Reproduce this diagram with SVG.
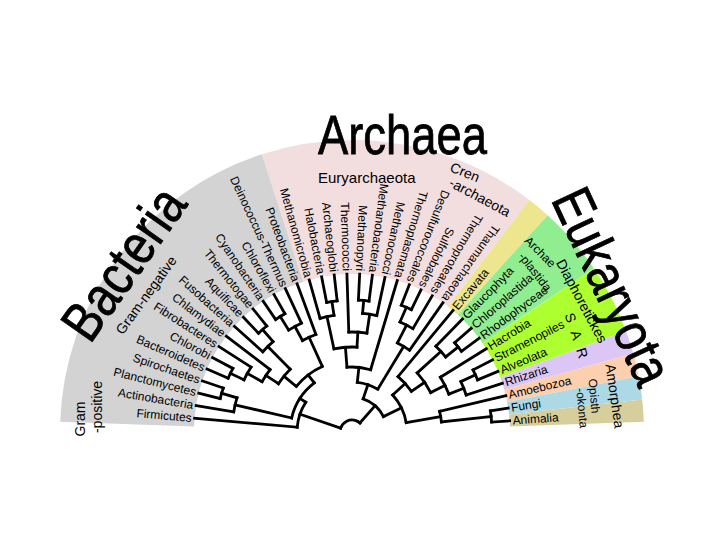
<svg xmlns="http://www.w3.org/2000/svg" width="720" height="540" viewBox="0 0 720 540">
<style>
text{font-family:"Liberation Sans",Arial,sans-serif;fill:#000}
.lf{font-size:12px}
.l{text-anchor:end}
.c{text-anchor:middle}
.t{font-size:56px;stroke:#000;stroke-width:0.8}
.m{font-size:14px}
.s{font-size:12px}
#connectors{fill:none;stroke:#000;stroke-width:2.8;stroke-linecap:square}
#bands circle{fill:none;stroke-width:134}
</style>
<rect width="720" height="540" fill="#fff"/>
<g id="bands" transform="translate(352 432)">
<circle r="225" stroke="#d3d3d3" transform="rotate(-178)" stroke-dasharray="274.9 2000"/>
<circle r="225" stroke="#f2dede" transform="rotate(-108)" stroke-dasharray="217.67 2000"/>
<circle r="225" stroke="#eee68f" transform="rotate(-52.57)" stroke-dasharray="18.14 2000"/>
<circle r="225" stroke="#90ee90" transform="rotate(-47.95)" stroke-dasharray="54.43 2000"/>
<circle r="225" stroke="#adff2f" transform="rotate(-34.09)" stroke-dasharray="54.43 2000"/>
<circle r="225" stroke="#dcc6f5" transform="rotate(-20.23)" stroke-dasharray="18.14 2000"/>
<circle r="225" stroke="#fccfae" transform="rotate(-15.61)" stroke-dasharray="18.14 2000"/>
<circle r="225" stroke="#add8e6" transform="rotate(-10.99)" stroke-dasharray="18.14 2000"/>
<circle r="225" stroke="#d6cf9d" transform="rotate(-6.37)" stroke-dasharray="17.16 2000"/>
</g>
<g id="connectors" transform="translate(352 432)">
<path transform="rotate(-175)" d="M55 0H158"/>
<path transform="rotate(-170.38)" d="M120 0H158"/>
<path transform="rotate(-165.76)" d="M136 0H158"/>
<path transform="rotate(-161.14)" d="M136 0H158"/>
<path transform="rotate(-156.52)" d="M135 0H158"/>
<path transform="rotate(-151.9)" d="M135 0H158"/>
<path transform="rotate(-147.28)" d="M120 0H158"/>
<path transform="rotate(-142.66)" d="M103 0H158"/>
<path transform="rotate(-138.04)" d="M120 0H158"/>
<path transform="rotate(-133.42)" d="M136 0H158"/>
<path transform="rotate(-128.8)" d="M136 0H158"/>
<path transform="rotate(-124.18)" d="M136 0H158"/>
<path transform="rotate(-119.56)" d="M136 0H158"/>
<path transform="rotate(-114.94)" d="M120 0H158"/>
<path transform="rotate(-110.32)" d="M104 0H158"/>
<path transform="rotate(-163.45)" d="M120 0H136"/>
<path transform="rotate(-166.92)" d="M62 0H120"/>
<path transform="rotate(-154.21)" d="M120 0H135"/>
<path transform="rotate(-150.75)" d="M103 0H120"/>
<path transform="rotate(-146.71)" d="M88 0H103"/>
<path transform="rotate(-131.11)" d="M120 0H136"/>
<path transform="rotate(-134.58)" d="M88 0H120"/>
<path transform="rotate(-140.65)" d="M72 0H88"/>
<path transform="rotate(-121.87)" d="M120 0H136"/>
<path transform="rotate(-118.41)" d="M104 0H120"/>
<path transform="rotate(-114.37)" d="M72 0H104"/>
<path transform="rotate(-127.51)" d="M62 0H72"/>
<path transform="rotate(-147.22)" d="M55 0H62"/>
<path transform="rotate(-161.11)" d="M12 0H55"/>
<circle r="136" transform="rotate(-165.76)" stroke-dasharray="10.97 2000"/>
<circle r="120" transform="rotate(-170.38)" stroke-dasharray="14.51 2000"/>
<circle r="135" transform="rotate(-156.52)" stroke-dasharray="10.89 2000"/>
<circle r="120" transform="rotate(-154.21)" stroke-dasharray="14.51 2000"/>
<circle r="103" transform="rotate(-150.75)" stroke-dasharray="14.54 2000"/>
<circle r="136" transform="rotate(-133.42)" stroke-dasharray="10.97 2000"/>
<circle r="120" transform="rotate(-138.04)" stroke-dasharray="14.51 2000"/>
<circle r="88" transform="rotate(-146.71)" stroke-dasharray="18.63 2000"/>
<circle r="136" transform="rotate(-124.18)" stroke-dasharray="10.97 2000"/>
<circle r="120" transform="rotate(-121.87)" stroke-dasharray="14.51 2000"/>
<circle r="104" transform="rotate(-118.41)" stroke-dasharray="14.68 2000"/>
<circle r="72" transform="rotate(-140.65)" stroke-dasharray="33.02 2000"/>
<circle r="62" transform="rotate(-166.92)" stroke-dasharray="42.65 2000"/>
<circle r="55" transform="rotate(-175)" stroke-dasharray="26.69 2000"/>
<path transform="rotate(-105.7)" d="M118 0H158"/>
<path transform="rotate(-101.08)" d="M132 0H158"/>
<path transform="rotate(-96.46)" d="M132 0H158"/>
<path transform="rotate(-91.84)" d="M100 0H158"/>
<path transform="rotate(-87.22)" d="M132 0H158"/>
<path transform="rotate(-82.6)" d="M132 0H158"/>
<path transform="rotate(-77.98)" d="M119 0H158"/>
<path transform="rotate(-73.36)" d="M65 0H158"/>
<path transform="rotate(-68.74)" d="M136 0H158"/>
<path transform="rotate(-64.12)" d="M136 0H158"/>
<path transform="rotate(-59.5)" d="M120 0H158"/>
<path transform="rotate(-54.88)" d="M100 0H158"/>
<path transform="rotate(-98.77)" d="M118 0H132"/>
<path transform="rotate(-102.24)" d="M85 0H118"/>
<path transform="rotate(-84.91)" d="M119 0H132"/>
<path transform="rotate(-81.45)" d="M100 0H119"/>
<path transform="rotate(-86.64)" d="M85 0H100"/>
<path transform="rotate(-94.44)" d="M65 0H85"/>
<path transform="rotate(-66.43)" d="M120 0H136"/>
<path transform="rotate(-62.97)" d="M100 0H120"/>
<path transform="rotate(-83.9)" d="M50 0H65"/>
<path transform="rotate(-58.92)" d="M50 0H100"/>
<path transform="rotate(-71.41)" d="M35 0H50"/>
<circle r="132" transform="rotate(-101.08)" stroke-dasharray="10.64 2000"/>
<circle r="118" transform="rotate(-105.7)" stroke-dasharray="14.27 2000"/>
<circle r="132" transform="rotate(-87.22)" stroke-dasharray="10.64 2000"/>
<circle r="119" transform="rotate(-84.91)" stroke-dasharray="14.39 2000"/>
<circle r="100" transform="rotate(-91.84)" stroke-dasharray="18.14 2000"/>
<circle r="85" transform="rotate(-102.24)" stroke-dasharray="23.14 2000"/>
<circle r="65" transform="rotate(-94.44)" stroke-dasharray="23.91 2000"/>
<circle r="136" transform="rotate(-68.74)" stroke-dasharray="10.97 2000"/>
<circle r="120" transform="rotate(-66.43)" stroke-dasharray="14.51 2000"/>
<circle r="100" transform="rotate(-62.97)" stroke-dasharray="14.11 2000"/>
<circle r="50" transform="rotate(-83.9)" stroke-dasharray="21.8 2000"/>
<path transform="rotate(-50.26)" d="M72 0H158"/>
<path transform="rotate(-45.64)" d="M120 0H158"/>
<path transform="rotate(-41.02)" d="M136 0H158"/>
<path transform="rotate(-36.4)" d="M136 0H158"/>
<path transform="rotate(-31.78)" d="M104 0H158"/>
<path transform="rotate(-27.16)" d="M136 0H158"/>
<path transform="rotate(-22.54)" d="M136 0H158"/>
<path transform="rotate(-17.92)" d="M120 0H158"/>
<path transform="rotate(-13.3)" d="M90 0H158"/>
<path transform="rotate(-8.68)" d="M140 0H158"/>
<path transform="rotate(-4.06)" d="M140 0H158"/>
<path transform="rotate(-38.71)" d="M120 0H136"/>
<path transform="rotate(-42.18)" d="M88 0H120"/>
<path transform="rotate(-24.85)" d="M120 0H136"/>
<path transform="rotate(-21.39)" d="M104 0H120"/>
<path transform="rotate(-26.58)" d="M88 0H104"/>
<path transform="rotate(-34.38)" d="M72 0H88"/>
<path transform="rotate(-42.32)" d="M55 0H72"/>
<path transform="rotate(-6.37)" d="M90 0H140"/>
<path transform="rotate(-9.84)" d="M55 0H90"/>
<path transform="rotate(-26.08)" d="M35 0H55"/>
<path transform="rotate(-48.75)" d="M12 0H35"/>
<circle r="136" transform="rotate(-41.02)" stroke-dasharray="10.97 2000"/>
<circle r="120" transform="rotate(-45.64)" stroke-dasharray="14.51 2000"/>
<circle r="136" transform="rotate(-27.16)" stroke-dasharray="10.97 2000"/>
<circle r="120" transform="rotate(-24.85)" stroke-dasharray="14.51 2000"/>
<circle r="104" transform="rotate(-31.78)" stroke-dasharray="18.87 2000"/>
<circle r="88" transform="rotate(-42.18)" stroke-dasharray="23.95 2000"/>
<circle r="72" transform="rotate(-50.26)" stroke-dasharray="19.96 2000"/>
<circle r="140" transform="rotate(-8.68)" stroke-dasharray="11.29 2000"/>
<circle r="90" transform="rotate(-13.3)" stroke-dasharray="10.89 2000"/>
<circle r="55" transform="rotate(-42.32)" stroke-dasharray="31.18 2000"/>
<circle r="35" transform="rotate(-71.41)" stroke-dasharray="27.69 2000"/>
<circle r="12" transform="rotate(-161.11)" stroke-dasharray="23.53 2000"/>
</g>
<g id="n-firmicutes"><text class="lf l" transform="translate(352 432) rotate(-175) translate(161) rotate(180)" dy="4">Firmicutes</text></g>
<g id="n-actinobacteria"><text class="lf l" transform="translate(352 432) rotate(-170.38) translate(161) rotate(180)" dy="4">Actinobacteria</text></g>
<g id="n-planctomycetes"><text class="lf l" transform="translate(352 432) rotate(-165.76) translate(161) rotate(180)" dy="4">Planctomycetes</text></g>
<g id="n-spirochaetes"><text class="lf l" transform="translate(352 432) rotate(-161.14) translate(161) rotate(180)" dy="4">Spirochaetes</text></g>
<g id="n-bacteroidetes"><text class="lf l" transform="translate(352 432) rotate(-156.52) translate(161) rotate(180)" dy="4">Bacteroidetes</text></g>
<g id="n-chlorobi"><text class="lf l" transform="translate(352 432) rotate(-151.9) translate(161) rotate(180)" dy="4">Chlorobi</text></g>
<g id="n-fibrobacteres"><text class="lf l" transform="translate(352 432) rotate(-147.28) translate(161) rotate(180)" dy="4">Fibrobacteres</text></g>
<g id="n-chlamydiae"><text class="lf l" transform="translate(352 432) rotate(-142.66) translate(161) rotate(180)" dy="4">Chlamydiae</text></g>
<g id="n-fusobacteria"><text class="lf l" transform="translate(352 432) rotate(-138.04) translate(161) rotate(180)" dy="4">Fusobacteria</text></g>
<g id="n-aquificae"><text class="lf l" transform="translate(352 432) rotate(-133.42) translate(161) rotate(180)" dy="4">Aquificae</text></g>
<g id="n-thermotogae"><text class="lf l" transform="translate(352 432) rotate(-128.8) translate(161) rotate(180)" dy="4">Thermotogae</text></g>
<g id="n-cyanobacteria"><text class="lf l" transform="translate(352 432) rotate(-124.18) translate(161) rotate(180)" dy="4">Cyanobacteria</text></g>
<g id="n-chloroflexi"><text class="lf l" transform="translate(352 432) rotate(-119.56) translate(161) rotate(180)" dy="4">Chloroflexi</text></g>
<g id="n-deinococcus"><text class="lf l" transform="translate(352 432) rotate(-114.94) translate(161) rotate(180)" dy="4">Deinococcus-Thermus</text></g>
<g id="n-proteobacteria"><text class="lf l" transform="translate(352 432) rotate(-110.32) translate(161) rotate(180)" dy="4">Proteobacteria</text></g>
<g id="n-methanomicrobia"><text class="lf l" transform="translate(352 432) rotate(-105.7) translate(161) rotate(180)" dy="4">Methanomicrobia</text></g>
<g id="n-halobacteria"><text class="lf l" transform="translate(352 432) rotate(-101.08) translate(161) rotate(180)" dy="4">Halobacteria</text></g>
<g id="n-archaeoglobi"><text class="lf l" transform="translate(352 432) rotate(-96.46) translate(161) rotate(180)" dy="4">Archaeoglobi</text></g>
<g id="n-thermococci"><text class="lf l" transform="translate(352 432) rotate(-91.84) translate(161) rotate(180)" dy="4">Thermococci</text></g>
<g id="n-methanopyri"><text class="lf l" transform="translate(352 432) rotate(-87.22) translate(161) rotate(180)" dy="4">Methanopyri</text></g>
<g id="n-methanobacteria"><text class="lf l" transform="translate(352 432) rotate(-82.6) translate(161) rotate(180)" dy="4">Methanobacteria</text></g>
<g id="n-methanococci"><text class="lf l" transform="translate(352 432) rotate(-77.98) translate(161) rotate(180)" dy="4">Methanococci</text></g>
<g id="n-thermoplasmata"><text class="lf l" transform="translate(352 432) rotate(-73.36) translate(161) rotate(180)" dy="4">Thermoplasmata</text></g>
<g id="n-desulfurococcales"><text class="lf l" transform="translate(352 432) rotate(-68.74) translate(161) rotate(180)" dy="4">Desulfurococcales</text></g>
<g id="n-sulfolobales"><text class="lf l" transform="translate(352 432) rotate(-64.12) translate(161) rotate(180)" dy="4">Sulfolobales</text></g>
<g id="n-thermoproteales"><text class="lf l" transform="translate(352 432) rotate(-59.5) translate(161) rotate(180)" dy="4">Thermoproteales</text></g>
<g id="n-thaumarchaeota"><text class="lf l" transform="translate(352 432) rotate(-54.88) translate(161) rotate(180)" dy="4">Thaumarchaeota</text></g>
<g id="n-excavata"><text class="lf" transform="translate(352 432) rotate(-50.26)" x="161" dy="4">Excavata</text></g>
<g id="n-glaucophyta"><text class="lf" transform="translate(352 432) rotate(-45.64)" x="161" dy="4">Glaucophyta</text></g>
<g id="n-chloroplastida"><text class="lf" transform="translate(352 432) rotate(-41.02)" x="161" dy="4">Chloroplastida</text></g>
<g id="n-rhodophyceae"><text class="lf" transform="translate(352 432) rotate(-36.4)" x="161" dy="4">Rhodophyceae</text></g>
<g id="n-hacrobia"><text class="lf" transform="translate(352 432) rotate(-31.78)" x="161" dy="4">Hacrobia</text></g>
<g id="n-stramenopiles"><text class="lf" transform="translate(352 432) rotate(-27.16)" x="161" dy="4">Stramenopiles</text></g>
<g id="n-alveolata"><text class="lf" transform="translate(352 432) rotate(-22.54)" x="161" dy="4">Alveolata</text></g>
<g id="n-rhizaria"><text class="lf" transform="translate(352 432) rotate(-17.92)" x="161" dy="4">Rhizaria</text></g>
<g id="n-amoebozoa"><text class="lf" transform="translate(352 432) rotate(-13.3)" x="161" dy="4">Amoebozoa</text></g>
<g id="n-fungi"><text class="lf" transform="translate(352 432) rotate(-8.68)" x="161" dy="4">Fungi</text></g>
<g id="n-animalia"><text class="lf" transform="translate(352 432) rotate(-4.06)" x="161" dy="4">Animalia</text></g>
<g id="t-archaea"><text class="t" x="318" y="154" textLength="169" lengthAdjust="spacingAndGlyphs">Archaea</text></g>
<g id="t-bacteria"><text class="t c" transform="translate(123 263) rotate(-55)" y="20" textLength="172" lengthAdjust="spacingAndGlyphs">Bacteria</text></g>
<g id="t-eukaryota"><text class="t c" transform="translate(613 286) rotate(65)" y="20" textLength="210" lengthAdjust="spacingAndGlyphs">Eukaryota</text></g>
<g id="g-euryarchaeota"><text style="font-size:15px" x="318" y="183">Euryarchaeota</text></g>
<g id="g-crenarchaeota"><text class="m c" transform="translate(465 172) rotate(22)" y="5">Cren</text><text class="m c" transform="translate(480 197) rotate(28)" y="5">-archaeota</text></g>
<g id="g-archaeplastida"><text class="s c" transform="translate(540 252) rotate(45)" y="4">Archae</text><text class="s c" transform="translate(535 272) rotate(52)" y="4">-plastida</text></g>
<g id="g-diaphoretickes"><text class="m c" transform="translate(582 301) rotate(62)" y="5">Diaphoretickes</text></g>
<g id="g-sar"><text class="m c" transform="translate(577 337) rotate(72)" y="5" letter-spacing="3">S A R</text></g>
<g id="g-amorphea"><text class="m c" transform="translate(615 396) rotate(82)" y="5">Amorphea</text></g>
<g id="g-opisthokonta"><text class="s c" transform="translate(594 396) rotate(85)" y="4">Opisth</text><text class="s c" transform="translate(582 408) rotate(85)" y="4">-okonta</text></g>
<g id="g-grampositive"><text class="m c" transform="translate(80 419) rotate(-90)" y="5">Gram</text><text class="m c" transform="translate(97 407) rotate(-90)" y="5">-positive</text></g>
<g id="g-gramnegative"><text class="m c" transform="translate(146 295) rotate(-54)" y="5">Gram-negative</text></g>
</svg>
